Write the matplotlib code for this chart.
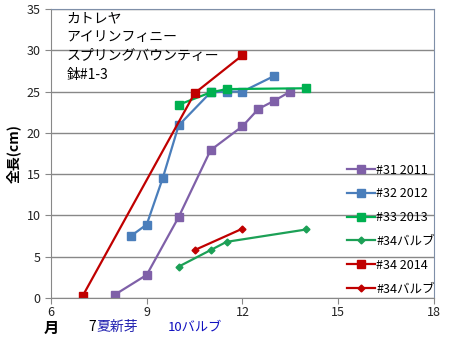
import matplotlib
matplotlib.use("Agg")
import matplotlib.pyplot as plt

plt.rcParams["font.family"] = ["Noto Sans CJK JP", "DejaVu Sans"]

# 月 vs 全長(cm)
x31 = [8, 9, 10, 11, 12, 12.5, 13, 13.5]
y31 = [0.4, 2.8, 9.8, 17.9, 20.8, 22.9, 23.9, 25.0]
x32 = [8.5, 9, 9.5, 10, 11, 11.5, 12, 13]
y32 = [7.5, 8.9, 14.5, 20.9, 24.9, 25.0, 25.0, 26.9]
x33 = [10, 11, 11.5, 14]
y33 = [23.4, 24.9, 25.3, 25.4]
x34b_g = [10, 11, 11.5, 14]
y34b_g = [3.8, 5.8, 6.8, 8.3]
x34 = [7, 10.5, 12]
y34 = [0.3, 24.8, 29.4]
x34b_r = [10.5, 12]
y34b_r = [5.8, 8.4]

labels = ["#31 2011", "#32 2012", "#33 2013", "#34バルブ", "#34 2014", "#34バルブ"]
x_ticks = [6, 9, 12, 15, 18]
y_ticks = [0, 5, 10, 15, 20, 25, 30, 35]
title_lines = ["カトレヤ", "アイリンフィニー", "スプリングバウンティー", "鉢#1-3"]

fig = plt.figure(figsize=(4.5, 3.41), dpi=100)
ax = fig.add_axes([0.1133, 0.1261, 0.8511, 0.8475])

ax.plot(x31, y31, color="#7F60A8", lw=1.6, marker="s", ms=6, label=labels[0])
ax.plot(x32, y32, color="#4A7EBB", lw=1.6, marker="s", ms=6, label=labels[1])
ax.plot(x33, y33, color="#00B050", lw=1.6, marker="s", ms=6, label=labels[2])
ax.plot(x34b_g, y34b_g, color="#1CA056", lw=1.6, marker="D", ms=3.5, label=labels[3])
ax.plot(x34, y34, color="#C00000", lw=1.6, marker="s", ms=6, label=labels[4])
ax.plot(x34b_r, y34b_r, color="#C00000", lw=1.6, marker="D", ms=3.5, label=labels[5])

ax.set_xlim(6, 18)
ax.set_ylim(0, 35)
ax.set_xticks(x_ticks)
ax.set_yticks(y_ticks)
ax.yaxis.grid(True, color="#888888", lw=1)
ax.set_axisbelow(True)
ax.tick_params(labelsize=9, colors="#222222", length=4, color="#888888")
ax.tick_params(axis="x", pad=2)
for s in ["top", "right"]:
    ax.spines[s].set_color("#7F8FA8")
for s in ["left", "bottom"]:
    ax.spines[s].set_color("#888888")

ax.set_ylabel("全長(cm)", fontsize=10, fontweight="bold", labelpad=4)

ax.text(0.04, 0.993, "\n".join(title_lines), transform=ax.transAxes,
        fontsize=10, va="top", ha="left", linespacing=1.45)

leg = ax.legend(loc="upper left", bbox_to_anchor=(0.773, 0.465), frameon=False,
                fontsize=9, handlelength=2.2, handletextpad=0.15,
                labelspacing=0.86, borderpad=0, borderaxespad=0)
for t in leg.get_texts():
    t.set_clip_box(ax.bbox)
    t.set_clip_on(True)

# 下の注記
fig.text(51 / 450, 1 - 328 / 341, "月", fontsize=11, fontweight="bold",
         ha="center", va="center")
fig.text(88 / 450, 1 - 327 / 341, "7", fontsize=10, ha="left", va="center")
fig.text(96 / 450, 1 - 327 / 341, "夏新芽", fontsize=10, color="#2020B0",
         ha="left", va="center")
fig.text(168 / 450, 1 - 327 / 341, "10バルブ", fontsize=9.5, color="#1010C0",
         ha="left", va="center")

fig.savefig("out.png", dpi=100)
